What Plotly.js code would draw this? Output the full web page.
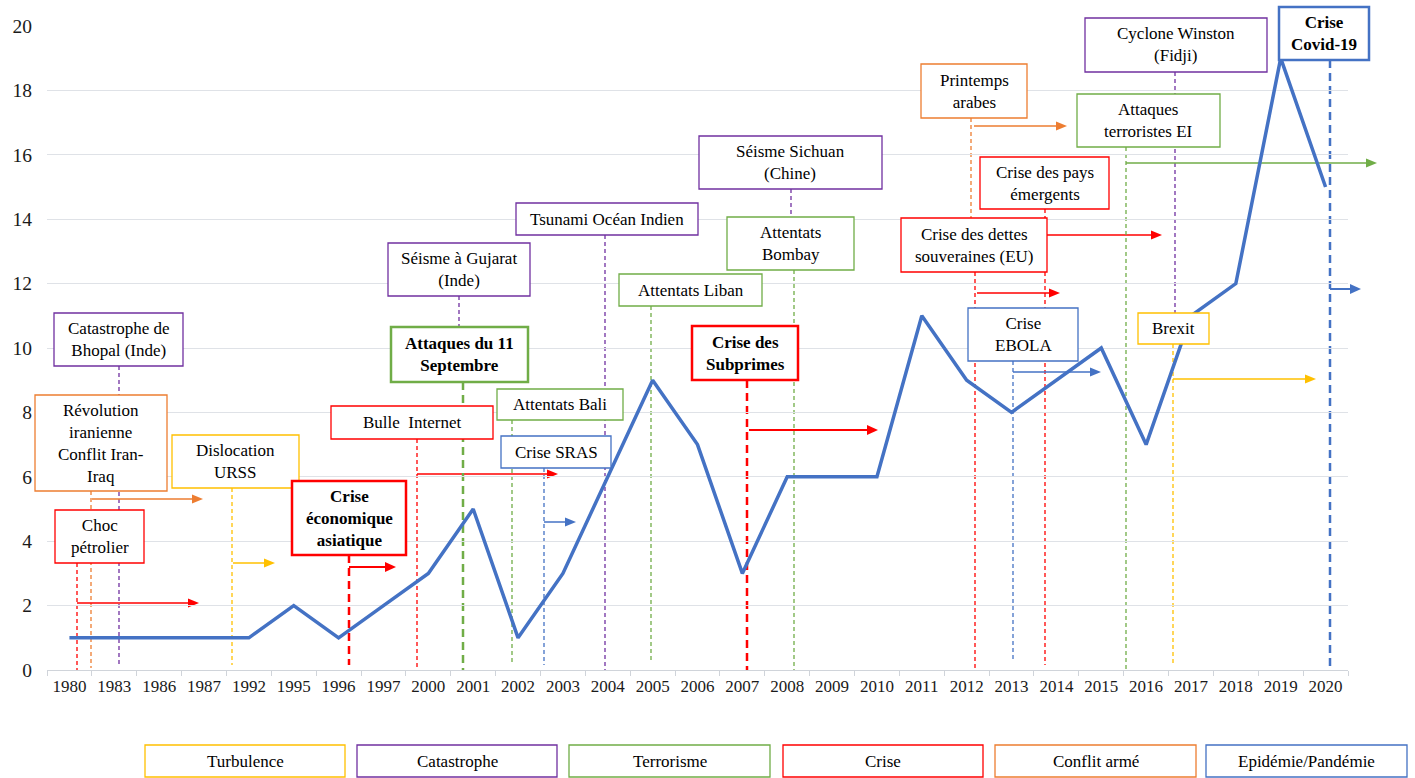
<!DOCTYPE html>
<html>
<head>
<meta charset="utf-8">
<script src="https://cdn.plot.ly/plotly-3.0.1.min.js"></script>
<style>
  html, body { margin: 0; padding: 0; background: #fff; }
  #chart { width: 1415px; height: 778px; }
</style>
</head>
<body>
<div id="chart"></div>
<script>
// series
const years = ['1980', '1983', '1986', '1987', '1992', '1995', '1996', '1997', '2000', '2001',
  '2002', '2003', '2004', '2005', '2006', '2007', '2008', '2009', '2010', '2011',
  '2012', '2013', '2014', '2015', '2016', '2017', '2018', '2019', '2020'];
const counts = [1, 1, 1, 1, 1, 2, 1, 2, 3, 5,
  1, 3, 6, 9, 7, 3, 6, 6, 6, 11,
  9, 8, 9, 10, 7, 11, 12, 19, 15];

// event categories (legend)
const kinds = ['Turbulence', 'Catastrophe', 'Terrorisme', 'Crise', 'Conflit armé', 'Epidémie/Pandémie'];
const kindColors = ['#FFC000', '#7030A0', '#70AD47', '#FF0000', '#ED7D31', '#4472C4'];

// events
const eventLabels = [
  'Catastrophe de<br>Bhopal (Inde)',
  'Révolution<br>iranienne<br>Conflit Iran-<br>Iraq',
  'Choc<br>pétrolier',
  'Dislocation<br>URSS',
  'Crise<br>économique<br>asiatique',
  'Bulle  Internet',
  'Séisme à Gujarat<br>(Inde)',
  'Attaques du 11<br>Septembre',
  'Attentats Bali',
  'Crise SRAS',
  'Tsunami Océan Indien',
  'Attentats Liban',
  'Crise des<br>Subprimes',
  'Séisme Sichuan<br>(Chine)',
  'Attentats<br>Bombay',
  'Printemps<br>arabes',
  'Crise des pays<br>émergents',
  'Crise des dettes<br>souveraines (EU)',
  'Crise<br>EBOLA',
  'Cyclone Winston<br>(Fidji)',
  'Attaques<br>terroristes EI',
  'Brexit',
  'Crise<br>Covid-19'
];
const eventKinds = [1, 4, 3, 0, 3, 3, 1, 2, 2, 5, 1, 2, 3, 1, 2, 4, 3, 3, 5, 1, 2, 0, 5];
const eventBold = [0, 0, 0, 0, 1, 0, 0, 1, 0, 0, 0, 0, 1, 0, 0, 0, 0, 0, 0, 0, 0, 0, 1];

// placement of the event boxes, in page pixels
// box [x0, y0, x1, y1], stem [x, yTop, yBottom], arrow [xStart, xEnd, y]
const placement = [
  { box: [54, 313, 183, 366], stem: [119, 366, 665] },
  { box: [35, 395, 167, 491], stem: [91, 491, 668], arrow: [92, 203, 499] },
  { box: [55, 510, 144, 563], stem: [77, 563, 670], arrow: [77, 199, 603] },
  { box: [172, 435, 299, 488], stem: [232, 488, 665], arrow: [233, 275, 563] },
  { box: [292, 481, 406, 555], stem: [349, 555, 665], arrow: [349, 396, 567] },
  { box: [331, 406, 493, 439], stem: [417, 439, 668], arrow: [417, 558, 474] },
  { box: [388, 243, 530, 296], stem: [459, 296, 327] },
  { box: [391, 327, 528, 382], stem: [463, 382, 670] },
  { box: [497, 389, 623, 420], stem: [512, 420, 665] },
  { box: [501, 436, 611, 468], stem: [544, 468, 665], arrow: [544, 576, 522] },
  { box: [516, 203, 698, 235], stem: [605, 235, 670] },
  { box: [619, 274, 762, 306], stem: [651, 306, 662] },
  { box: [692, 326, 798, 380], stem: [747, 380, 670], arrow: [749, 878, 430] },
  { box: [699, 136, 882, 189], stem: [791, 189, 217] },
  { box: [727, 217, 854, 270], stem: [794, 270, 670] },
  { box: [921, 64, 1027, 118], stem: [971, 118, 218], arrow: [974, 1067, 126] },
  { box: [980, 157, 1109, 209], stem: [1045, 209, 665], arrow: [1047, 1162, 235] },
  { box: [901, 218, 1047, 272], stem: [975, 272, 670], arrow: [977, 1060, 293] },
  { box: [968, 308, 1078, 361], stem: [1013, 361, 660], arrow: [1013, 1101, 372] },
  { box: [1085, 18, 1267, 72], stem: [1175, 72, 313] },
  { box: [1077, 94, 1220, 147], stem: [1126, 147, 670], arrow: [1126, 1377, 163] },
  { box: [1138, 313, 1209, 344], stem: [1173, 344, 665], arrow: [1173, 1316, 379] },
  { box: [1279, 7, 1369, 60], stem: [1330, 60, 668], arrow: [1330, 1361, 289] }
];
const legendBoxes = [[145, 345], [357, 557], [569, 770], [783, 983], [995, 1196], [1206, 1407]];

// plot area in page pixels
const L = 47, R = 1348, T = 26, B = 670;
const fx = p => (p - L) / (R - L);
const fy = p => (B - p) / (B - T);
const serif = '"Liberation Serif", "Times New Roman", Times, serif';

const shapes = [];
const annotations = [];

placement.forEach((g, i) => {
  const col = kindColors[eventKinds[i]];
  const bold = eventBold[i] === 1;
  const [sx, sy0, sy1] = g.stem;
  shapes.push({
    type: 'line', xref: 'paper', yref: 'paper', layer: 'below',
    x0: fx(sx), x1: fx(sx), y0: fy(sy0), y1: fy(sy1),
    line: { color: col, width: bold ? 2.5 : 1.3, dash: bold ? '8px,5px' : '4px,3px' }
  });
  if (g.arrow) {
    const [a0, a1, ay] = g.arrow;
    const hw = bold ? 5 : 4.5, hl = 11;
    shapes.push({
      type: 'line', xref: 'paper', yref: 'paper', layer: 'below',
      x0: fx(a0), x1: fx(a1 - hl + 1), y0: fy(ay), y1: fy(ay),
      line: { color: col, width: bold ? 2 : 1.5 }
    });
    shapes.push({
      type: 'path', xref: 'paper', yref: 'paper', layer: 'below',
      path: `M ${fx(a1)} ${fy(ay)} L ${fx(a1 - hl)} ${fy(ay - hw)} L ${fx(a1 - hl)} ${fy(ay + hw)} Z`,
      fillcolor: col, line: { color: col, width: 0 }
    });
  }
});

placement.forEach((g, i) => {
  const col = kindColors[eventKinds[i]];
  const bold = eventBold[i] === 1;
  const [x0, y0, x1, y1] = g.box;
  shapes.push({
    type: 'rect', xref: 'paper', yref: 'paper', layer: 'above',
    x0: fx(x0), x1: fx(x1), y0: fy(y0), y1: fy(y1),
    fillcolor: '#ffffff', line: { color: col, width: bold ? 2.5 : 1.3 }
  });
  annotations.push({
    xref: 'paper', yref: 'paper', x: fx((x0 + x1) / 2), y: fy((y0 + y1) / 2),
    xanchor: 'center', yanchor: 'middle', showarrow: false, align: 'center',
    text: bold ? '<b>' + eventLabels[i] + '</b>' : eventLabels[i],
    font: { family: serif, size: 17, color: '#000000' }
  });
});

legendBoxes.forEach(([x0, x1], i) => {
  shapes.push({
    type: 'rect', xref: 'paper', yref: 'paper', layer: 'above',
    x0: fx(x0), x1: fx(x1), y0: fy(745), y1: fy(777),
    fillcolor: '#ffffff', line: { color: kindColors[i], width: 1.3 }
  });
  annotations.push({
    xref: 'paper', yref: 'paper', x: fx((x0 + x1) / 2), y: fy(761),
    xanchor: 'center', yanchor: 'middle', showarrow: false,
    text: kinds[i], font: { family: serif, size: 17, color: '#000000' }
  });
});

const data = [{
  x: years,
  y: counts,
  type: 'scatter',
  mode: 'lines',
  line: { color: '#4472C4', width: 3.5 },
  hoverinfo: 'x+y'
}];

const layout = {
  width: 1415,
  height: 778,
  margin: { l: L, r: 1415 - R, t: T, b: 778 - B },
  paper_bgcolor: '#ffffff',
  plot_bgcolor: '#ffffff',
  showlegend: false,
  font: { family: serif, color: '#000000' },
  xaxis: {
    type: 'category',
    range: [-0.5, years.length - 0.5],
    tickson: 'boundaries',
    ticks: 'outside',
    ticklen: 5,
    tickangle: 0,
    tickcolor: '#d0d4da',
    showline: true,
    linecolor: '#d0d4da',
    linewidth: 1.3,
    showgrid: false,
    zeroline: false,
    tickfont: { family: serif, size: 17, color: '#1a1a1a' }
  },
  yaxis: {
    range: [0, 20],
    dtick: 2,
    showgrid: true,
    gridcolor: '#dfe2e7',
    gridwidth: 1.3,
    zeroline: false,
    showline: false,
    ticks: '',
    ticklabelstandoff: 14,
    tickfont: { family: serif, size: 19.5, color: '#1a1a1a' }
  },
  shapes: shapes,
  annotations: annotations
};

Plotly.newPlot('chart', data, layout, { displayModeBar: false, responsive: false });
</script>
</body>
</html>
